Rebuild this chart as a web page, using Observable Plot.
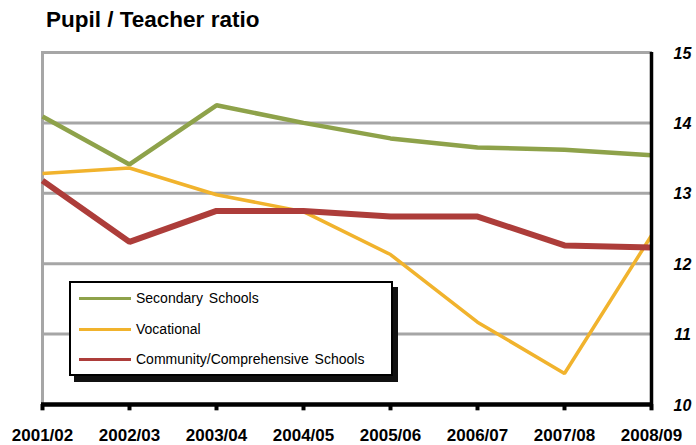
<!DOCTYPE html>
<html>
<head>
<meta charset="utf-8">
<script src="https://cdn.jsdelivr.net/npm/d3@7"></script>
<script src="https://cdn.jsdelivr.net/npm/@observablehq/plot@0.6"></script>
<style>
  html, body { margin: 0; padding: 0; background: #fff; }
  #wrap { position: relative; width: 696px; height: 445px; font-family: "Liberation Sans", Arial, sans-serif; }
  #title { position: absolute; left: 46px; top: 7px; font-size: 22.5px; font-weight: bold; color: #000; white-space: nowrap; }
  #legend { position: absolute; left: 69px; top: 281px; width: 320px; height: 91px; border: 2px solid #000; background: #fff;
            box-shadow: 5px 6px 0 #111; }
  .row { position: absolute; left: 8px; height: 20px; display: flex; align-items: center; font-size: 14px; word-spacing: 2px; color: #000; white-space: nowrap; }
  .sw { width: 52px; height: 3px; margin-right: 5px; }
  svg { position: absolute; left: 0; top: 0; }
</style>
</head>
<body>
<div id="wrap">
  <div id="title">Pupil / Teacher ratio</div>
</div>
<script>
const years = ["2001/02","2002/03","2003/04","2004/05","2005/06","2006/07","2007/08","2008/09"];
const secondary = [14.09, 13.41, 14.25, 14.00, 13.78, 13.65, 13.62, 13.54];
const vocational = [13.28, 13.36, 12.98, 12.74, 12.13, 11.17, 10.44, 12.40];
const community = [13.18, 12.31, 12.75, 12.75, 12.67, 12.67, 12.26, 12.23];
const yTicks = [10, 11, 12, 13, 14, 15];
const seriesNames = ["Secondary Schools", "Vocational", "Community/Comprehensive Schools"];
const seriesColors = ["#8ea24a", "#f1b32d", "#ad3d3a"];
const seriesWidths = [4.5, 3.5, 6];

const seriesValues = [secondary, vocational, community];
const rows = [];
seriesValues.forEach((vals, s) => vals.forEach((v, i) => rows.push({series: seriesNames[s], year: years[i], value: v})));
const lastYear = years[years.length - 1];

const chart = Plot.plot({
  width: 696,
  height: 445,
  marginLeft: 41,
  marginRight: 44,
  marginTop: 52,
  marginBottom: 41,
  style: {background: "transparent", fontFamily: "Liberation Sans, Arial, sans-serif", overflow: "visible"},
  x: {type: "point", domain: years, padding: 0, axis: null},
  y: {domain: [10, 15], axis: null},
  marks: [
    Plot.ruleY(yTicks.slice(1), {stroke: "#a6a6a6", strokeWidth: 3}),
    Plot.ruleX([years[0]], {x: d => d, y1: 10, y2: 15, stroke: "#a6a6a6", strokeWidth: 3}),
    ...seriesNames.map((name, s) => Plot.line(rows.filter(d => d.series === name), {
      x: "year", y: "value", stroke: seriesColors[s], strokeWidth: seriesWidths[s], strokeLinejoin: "miter", strokeLinecap: "butt"
    })),
    Plot.ruleX([lastYear], {x: d => d, y1: 10, y2: 15, stroke: "#000", strokeWidth: 3.5}),
    Plot.ruleY([10], {y: d => d, stroke: "#000", strokeWidth: 4.5}),
    Plot.ruleX(years, {x: d => d, y1: 10, y2: 9.91, stroke: "#000", strokeWidth: 4}),
    Plot.text(years, {x: d => d, y: () => 10, dy: 31, text: d => d, fontSize: 17, fontWeight: "bold", fill: "#000"}),
    Plot.text(yTicks, {x: () => lastYear, y: d => d, dx: 31, dy: 1, text: d => String(d), fontSize: 16, fontWeight: "bold", fontStyle: "italic", fill: "#000"})
  ]
});
document.getElementById("wrap").appendChild(chart);

const legend = document.createElement("div");
legend.id = "legend";
const tops = [5, 36, 66];
seriesNames.forEach((name, s) => {
  const r = document.createElement("div");
  r.className = "row";
  r.style.top = tops[s] + "px";
  const sw = document.createElement("div");
  sw.className = "sw";
  sw.style.background = seriesColors[s];
  const t = document.createElement("span");
  t.textContent = name;
  r.appendChild(sw); r.appendChild(t);
  legend.appendChild(r);
});
document.getElementById("wrap").appendChild(legend);
</script>
</body>
</html>
